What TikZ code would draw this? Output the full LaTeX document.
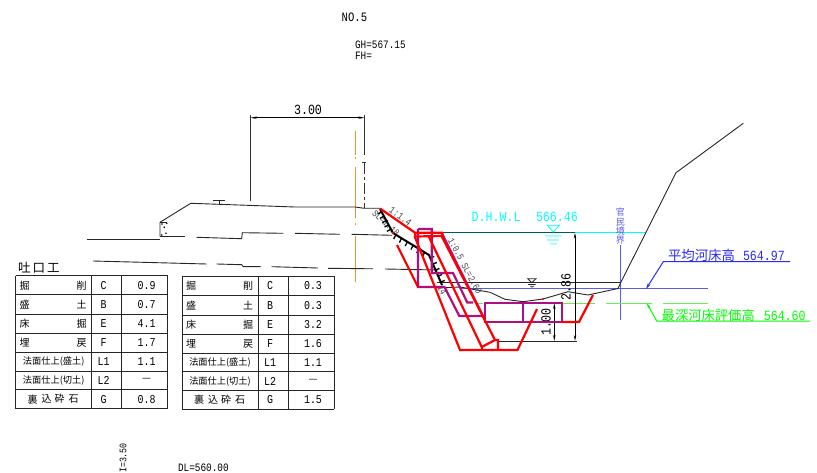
\documentclass[tikz,border=0pt]{standalone}
\usepackage{fontspec}
\usetikzlibrary{arrows.meta,calc}
\setmainfont{Liberation Sans}
\newfontfamily\cjk{Noto Sans CJK JP}
\newfontfamily\gth[FakeStretch=0.83]{Liberation Mono}
\definecolor{mag}{HTML}{B0107F}
\definecolor{wblue}{HTML}{2A2AF5}
\definecolor{lblue}{HTML}{5A5AF0}
\definecolor{lgreen}{HTML}{66EE55}
\definecolor{teal2}{HTML}{005A5A}
\definecolor{orng}{HTML}{F09030}
\definecolor{cy}{RGB}{0,255,255}
\definecolor{gr}{RGB}{0,255,0}
\newcommand{\fs}[1]{\fontsize{#1pt}{#1pt}\selectfont}
\tikzset{
  txt/.style={inner sep=0pt,outer sep=0pt,text=black},
  ground/.style={line width=0.9pt,black!85},
  redline/.style={line width=2.2pt,red,line join=miter},
  magline/.style={line width=2.2pt,mag,line join=miter},
  grid/.style={line width=1pt,black!85},
  dim/.style={line width=0.8pt,black,{Stealth[length=6pt,width=2.4pt]}-{Stealth[length=6pt,width=2.4pt]}},
  slope/.style={txt,text=black!72},
}
\newcommand{\sekotable}[4]{%
  \begin{scope}[shift={(#2,#3)}]
    \foreach \y in {0,19.3,38.6,58,76.6,95.3,114,133} \draw[grid] (0,\y) -- (152,\y);
    \foreach \x in {0,76,106,152} \draw[grid] (\x,0) -- (\x,133);
    \foreach \y/\l/\r [count=\i] in {9.6/掘/削,29/盛/土,48.3/床/掘,67.3/埋/戻} {
      \node[txt,font=\cjk\fs{10}] (#1l\i) at (9,\y) {\l};
      \node[txt,font=\cjk\fs{10}] (#1r\i) at (66,\y) {\r};
    }
    \node[txt,font=\cjk\fs{9.2}] (#1s1) at (38,86) {法面仕上(盛土)};
    \node[txt,font=\cjk\fs{9.2}] (#1s2) at (38,104.7) {法面仕上(切土)};
    \foreach \x/\t [count=\i] in {13/裏,27/込,40/砕,54/石}
      \node[txt,font=\cjk\fs{10}] (#1u\i) at (\x+4,123.5) {\t};
    \foreach \y/\t [count=\i] in {9.6/C,29/B,48.3/E,67.3/F,86/L1,104.7/L2,123.5/G}
      \node[txt,font=\gth\fs{12}] (#1k\i) at (88,\y) {\t};
    \foreach \y/\t [count=\i] in {#4}
      \node[txt,font=\gth\fs{12}] (#1v\i) at (131,\y) {\t};
    \node[txt,font=\cjk\fs{10}] (#1d) at (131,104.7) {—};
  \end{scope}}
\begin{document}
\begin{tikzpicture}[x=1pt,y=-1pt]
\useasboundingbox (0,0) rectangle (817,473);
\begin{scope}
\clip (0,0) rectangle (817,473);
% headings
\node[txt,font=\gth\fs{12.8},anchor=west] (no) at (341.7,17) {NO.5};
\node[txt,font=\gth\fs{11.3},anchor=west] (gh) at (355,45) {GH=567.15};
\node[txt,font=\gth\fs{11.3},anchor=west] (fh) at (355,56) {FH=};
\node[txt,font=\gth\fs{11.3},anchor=west] (dl) at (178,468) {DL=560.00};
\node[txt,font=\gth\fs{10},rotate=90] (il) at (123,458) {I=3.50};
\node[txt,font=\cjk\fs{12.5},anchor=west] (title) at (18,268) {吐\,口\,工};
% centre line
\draw[orng,line width=0.9pt] (355.3,131)--(355.3,155) (355.3,157)--(355.3,159) (355.3,166.7)--(355.3,218) (355.3,223)--(355.3,225) (355.3,236)--(355.3,282);
% ground lines
\draw[ground] (160,236.7)--(160,222.3)--(190.7,203.3)--(295,207)--(355,207)--(364.3,208.3)--(380,208.3);
\draw[ground] (160,222.3)--(167,222.3);
\draw[ground] (160,236.7)--(185,236.7);
\draw[ground] (87,239.3)--(160,239.3);
\draw[ground] (196.7,237.3)--(241.7,238.7)--(242.3,232.7)--(283.3,233.3);
\draw[ground] (295,233.3)--(340,234.3) (351.7,234.3)--(392,235.3);
\draw[ground] (93,261)--(206.7,264) (216.7,264)--(241.7,264.7)--(243.3,266.7)--(260.7,266.7);
\draw[ground] (271.7,266.7)--(318,268) (328,268.3)--(373,268.8) (385,269)--(438,270);
\foreach \p [count=\i] in {(162,224),(166.7,223.3),(164.3,227.3),(166,233.3),(161.7,235)}
  \fill[black] \p circle (0.9pt);
% T mark
\draw[ground] (213.3,200.7)--(225,200.7) (219,200.7)--(219,205);
% 3.00 dimension
\draw[line width=0.8pt,black!80] (250.7,115)--(250.7,200.7);
\draw[line width=0.8pt,black!80] (364.3,115)--(364.3,155);
\draw[line width=0.8pt,black!80] (362.3,162.7)--(366.3,162.7);
\draw[line width=0.8pt,black!80,dash pattern=on 11pt off 3pt on 3pt off 3pt] (364.3,163)--(364.3,208);
\draw[dim] (250.7,117.7)--(364.3,117.7);
\node[txt,font=\gth\fs{14}] (d300) at (308,110) {3.00};
% water lines
\draw[cy,line width=1pt] (575,232.7)--(646,232.7);
\draw[teal2,line width=1pt] (442,232.7)--(575,232.7);
\draw[ground] (437,282.7)--(620.7,282.7);
\draw[black!85,line width=0.8pt] (527.7,278.7)--(536,278.7)--(531.7,282.7)--cycle (528,284.5)--(535.5,284.5) (530,286.3)--(534,286.3) (531,288)--(533,288);
% blue and green levels
\draw[lblue,line width=1pt] (460,289)--(708,289);
\draw[lblue,line width=1pt] (620.7,245)--(620.7,320);
\draw[lgreen,line width=1pt] (476.7,303)--(483,303) (562,303)--(595,303) (606,303)--(651.7,303) (662.7,303)--(708,303);
% bed profile and far slope
\draw[ground] (438,288)--(460,287)--(490,292.3)--(505,299.3)--(523,301.7)--(543,299)--(568,291.7)--(588,295)--(618,288.5)--(620.7,282.7)--(676,172.7)--(743.3,123.3);
% dimensions
\draw[dim] (575,232.7)--(575,341);
\draw[dim] (554.3,303)--(554.3,341);
\draw[line width=1pt,black!85] (499,341)--(577,341);
\node[txt,font=\gth\fs{14},rotate=90] (d286) at (566,287) {2.86};
\node[txt,font=\gth\fs{14},rotate=90] (d100) at (546,322) {1.00};
% cyan water mark
\draw[cy,line width=0.9pt] (547.3,225.3)--(559.3,225.3)--(553.3,232)--cycle (545,236)--(561.7,236) (547,240)--(559,240) (550,244)--(557,244);
\node[txt,text=cy,font=\gth\fs{14},anchor=west] (dhwl) at (471.7,217) {D.H.W.L};
\node[txt,text=cy,font=\gth\fs{14},anchor=west] (dhwlv) at (536,217) {566.46};
% boundary text
\foreach \y/\t [count=\i] in {212/官,222/民,231/境,240/界}
  \node[txt,text=lblue,font=\cjk\fs{9}] (kan\i) at (620.3,\y) {\t};
% leaders
\draw[wblue,line width=1pt,{Stealth[length=6pt,width=3pt]}-] (646,289)--(663.3,261.7)--(790,261.7);
\node[txt,text=wblue,anchor=west] (heikin) at (668,255) {\cjk\fs{13.4}平均河床高\hspace{8pt}\gth\fs{14}564.97};
\draw[gr,line width=1pt,{Stealth[length=6pt,width=3pt]}-] (646.7,303)--(656.7,321)--(810,321);
\node[txt,text=gr,anchor=west] (saishin) at (661.7,315.7) {\cjk\fs{13.3}最深河床評価高\hspace{9pt}\gth\fs{14}564.60};
% slope labels
\node[slope,font=\gth\fs{10},rotate=-36] (s1) at (400.5,216.5) {1:1.4};
\node[slope,font=\gth\fs{9.5},rotate=-42] (s2) at (386,223) {SL=1.18};
\node[slope,font=\gth\fs{9.6},rotate=-62] (s3) at (465,266) {1:0.5 SL=2.60};
\node[slope,font=\gth\fs{9.5},rotate=-62] (s4) at (442,290) {14};
% hatched cut slope
\draw[black,line width=2pt,line join=round] (380,209)--(393,233)--(429,255)--(442,285);
\foreach \t in {0.12,0.3,0.48,0.66,0.84}
  \draw[black,line width=1.3pt] ($(380,209)!\t!(393,233)$) -- ++(-4,2.2);
\foreach \t in {0.08,0.24,0.4,0.56,0.72,0.88}
  \draw[black,line width=1.3pt] ($(393,233)!\t!(429,255)$) -- ++(-2.2,4.2);
\foreach \t in {0.1,0.3,0.5,0.7,0.9}
  \draw[black,line width=1.3pt] ($(429,255)!\t!(442,285)$) -- ++(4,-1.5);
% magenta
\draw[magline] (418,229)--(431.7,229)--(431.7,273)--(453,273)--(467.3,302.5)--(473,302.5);
\draw[magline] (418,229)--(418,287)--(444.5,287)--(459.3,316)--(485,316);
\draw[magline] (441.7,233)--(485,320);
\draw[magline] (485,303.3) rectangle (561.7,322);
\draw[magline] (522.7,303.3)--(522.7,322);
% red
\draw[redline] (380,208.5)--(415,232.7)--(442,232.7)--(443,236)--(415.5,236.5)--(415,232.7);
\draw[redline] (414.5,236)--(460,350)--(517.5,350)--(537,309);
\draw[redline] (429,237)--(481.7,347)--(495,340)--(498,340)--(498,350);
\draw[redline] (481.7,347)--(481.7,350);
\draw[redline] (441,235)--(495,340);
\draw[redline] (397,245)--(418,287);
\draw[redline] (561.7,322)--(579,322)--(593,295);
\fill[red] (543,299) circle (1.1pt) (393,233) circle (1.3pt);
% tables
\sekotable{a}{15.7}{275.7}{9.6/0.9,29/0.7,48.3/4.1,67.3/1.7,86/1.1,123.5/0.8}
\sekotable{b}{182}{276.4}{9.6/0.3,29/0.3,48.3/3.2,67.3/1.6,86/1.1,123.5/1.5}
\end{scope}
\end{tikzpicture}
\end{document}
